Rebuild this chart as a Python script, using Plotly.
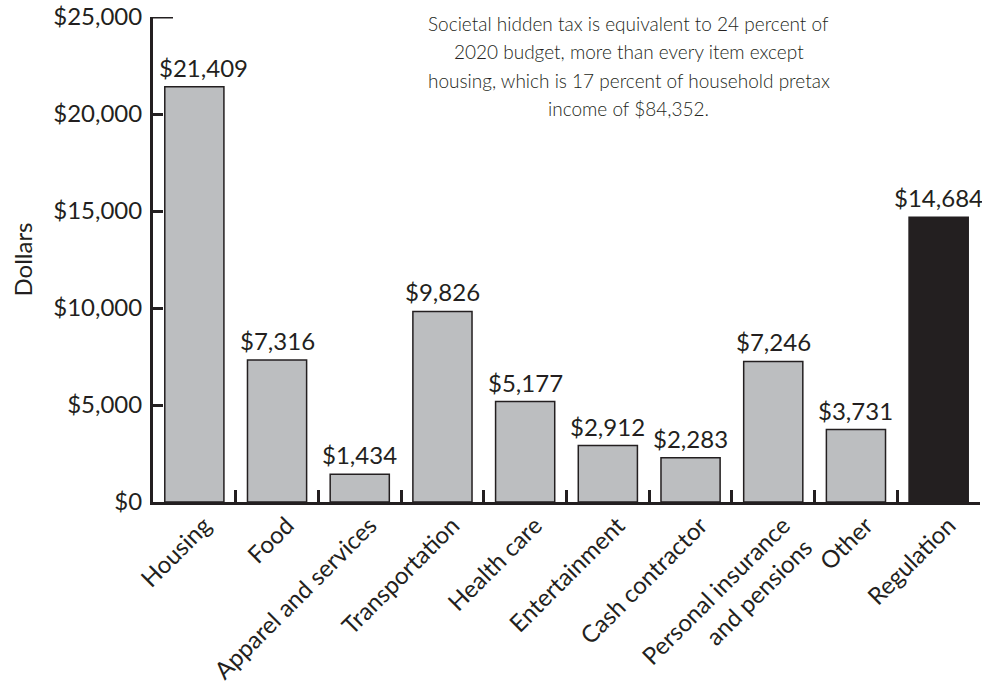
import plotly.graph_objects as go

# Average household spending items, 2020 (dollars)
categories = [
    "Housing", "Food", "Apparel and services", "Transportation", "Health care",
    "Entertainment", "Cash contractor", "Personal insurance<br>and pensions",
    "Other", "Regulation",
]
values = [21409, 7316, 1434, 9826, 5177, 2912, 2283, 7246, 3731, 14684]
value_labels = ["$" + f"{v:,}" for v in values]

y_tick_values = [0, 5000, 10000, 15000, 20000, 25000]
y_tick_labels = ["$0", "$5,000", "$10,000", "$15,000", "$20,000", "$25,000"]

note_lines = [
    "Societal hidden tax is equivalent to 24 percent of",
    "2020 budget, more than every item except",
    "housing, which is 17 percent of household pretax",
    "income of $84,352.",
]

INK = "#231f20"
GREY = "#bcbec0"
FONT = "Lato"

bar_colors = [GREY] * (len(values) - 1) + [INK]

fig = go.Figure(
    go.Bar(
        x=categories,
        y=values,
        width=0.715,
        marker=dict(color=bar_colors, line=dict(color=INK, width=1.5)),
        cliponaxis=False,
    )
)

annotations = []

# value labels sitting just above each bar (first one nudged clear of the axis)
for i, (cat, val, lab) in enumerate(zip(categories, values, value_labels)):
    annotations.append(
        dict(
            x=cat,
            y=val,
            xref="x",
            yref="y",
            text=lab,
            showarrow=False,
            xanchor="center",
            yanchor="bottom",
            yshift=3,
            xshift=9 if i == 0 else 0,
            font=dict(family=FONT, size=24, color=INK),
        )
    )

# explanatory note, one line per annotation for wider leading
for i, line in enumerate(note_lines):
    annotations.append(
        dict(
            text=line,
            xref="paper",
            yref="paper",
            x=0.575,
            y=1.0,
            xanchor="center",
            yanchor="middle",
            yshift=-6 - 28.5 * i,
            showarrow=False,
            font=dict(family=FONT, size=19, color=INK, weight=300),
        )
    )

fig.update_layout(
    width=982,
    height=685,
    margin=dict(l=153, r=2, t=17, b=183),
    paper_bgcolor="white",
    plot_bgcolor="white",
    showlegend=False,
    font=dict(family=FONT, color=INK),
    xaxis=dict(
        type="category",
        range=[-0.5, 9.5],
        automargin=False,
        showline=True,
        linecolor=INK,
        linewidth=3,
        ticks="inside",
        tickson="boundaries",
        ticklen=12,
        tickwidth=3,
        tickcolor=INK,
        tickangle=-45,
        tickfont=dict(family=FONT, size=24, color=INK),
        ticklabelshift=10,
        ticklabelstandoff=-3,
        showgrid=False,
        zeroline=False,
    ),
    yaxis=dict(
        range=[0, 25000],
        automargin=False,
        tickvals=y_tick_values,
        ticktext=y_tick_labels,
        showline=True,
        linecolor=INK,
        linewidth=3,
        ticks="inside",
        ticklen=10,
        tickwidth=3,
        tickcolor=INK,
        tickfont=dict(family=FONT, size=24, color=INK),
        ticklabelstandoff=3,
        showgrid=False,
        zeroline=False,
        title=dict(text="Dollars", font=dict(family=FONT, size=24, color=INK), standoff=14),
    ),
    annotations=annotations,
    shapes=[
        # longer cap tick at the top of the value axis
        dict(
            type="line",
            xref="paper",
            yref="y",
            x0=0,
            x1=20 / 827,
            y0=25000,
            y1=25000,
            line=dict(color=INK, width=3),
        )
    ],
)

fig.write_html("out.html")
